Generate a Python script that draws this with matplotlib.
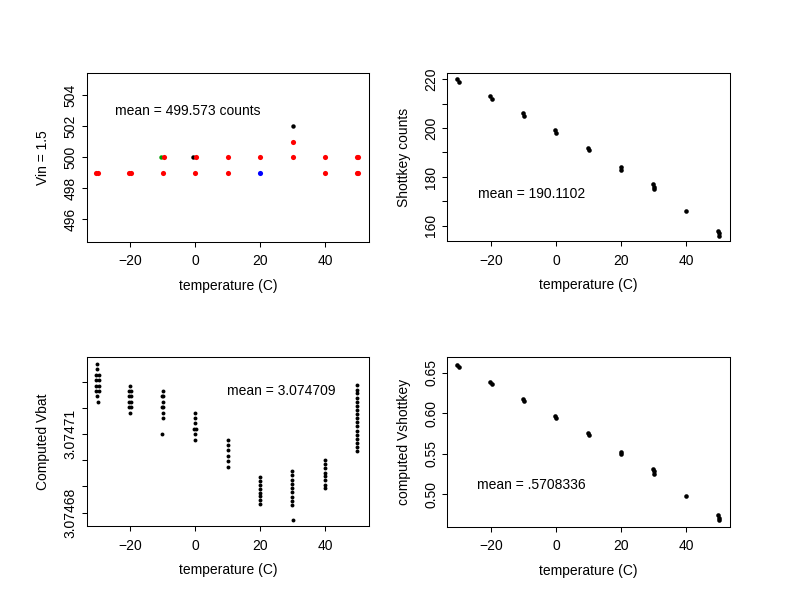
import matplotlib
matplotlib.use("Agg")
import matplotlib.pyplot as plt

plt.rcParams['font.family'] = ['Liberation Sans', 'DejaVu Sans']

# ---------------- data ----------------
# Top-left: Vin = 1.5 counts vs temperature (several colored runs)
tl_black_temp = [30.0, -0.5]
tl_black_val = [502, 500]
tl_green_temp = [-10.4]
tl_green_val = [500]
tl_blue_temp = [20.0]
tl_blue_val = [499]
tl_red_temp = [-30.4, -29.8, -20.4, -19.8, -10.0, -0.1, 10.2, 39.8, 49.6, 50.1,
               -9.7, 0.15, 10.2, 20.0, 30.0, 39.8, 49.6, 50.1, 30.0]
tl_red_val = [499, 499, 499, 499, 499, 499, 499, 499, 499, 499,
              500, 500, 500, 500, 500, 500, 500, 500, 501]

# Top-right: Shottkey counts
sk_temp = [-30.4, -29.8, -20.3, -19.8, -10.2, -9.9, -0.2, 0.1, 9.9, 10.1,
           19.9, 20.0, 29.8, 30.0, 30.1, 40.0, 49.9, 50.0, 50.0]
sk_counts = [220, 219, 213, 212, 206, 205, 199, 198, 192, 191,
             184, 183, 177, 176, 175, 166, 158, 157, 156]

# Bottom-left: computed Vbat
vb_temp = [-30.0, -30.0, -30.5, -29.6, -30.5, -29.6, -30.5, -29.6, -30.5, -29.6, -30.1, -29.8,
           -20.0, -20.4, -19.6, -20.4, -19.6, -20.4, -19.6, -20.4, -19.6, -20.1,
           -10.0, -10.3, -9.8, -10.0, -10.3, -9.8, -10.0, -10.0, -10.1,
           0.0, 0.0, 0.0, -0.3, 0.2, 0.0, 0.0,
           10.0, 10.0, 10.0, 10.0, 10.0, 10.0,
           20.0, 20.0, 20.0, 20.0, 20.0, 20.0, 20.0, 20.0,
           29.8, 29.8, 29.8, 29.8, 29.8, 29.8, 29.8, 29.8, 29.8, 30.0,
           39.9, 39.9, 39.9, 39.9, 39.9, 39.9, 39.9, 39.9,
           49.6, 49.6, 49.6, 49.6, 49.6, 49.6, 49.6, 49.6, 49.6, 49.6, 49.6, 49.6,
           49.6, 49.6, 49.6, 49.6, 49.6]
vb_val = [3.0747367, 3.0747347, 3.0747325, 3.0747325, 3.0747305, 3.0747305, 3.0747285,
          3.0747285, 3.0747264, 3.0747264, 3.0747244, 3.0747221,
          3.0747285, 3.0747264, 3.0747264, 3.0747244, 3.0747244, 3.0747222, 3.0747222,
          3.0747202, 3.0747202, 3.0747180,
          3.0747264, 3.0747244, 3.0747244, 3.0747222, 3.0747202, 3.0747202, 3.0747180,
          3.0747160, 3.0747099,
          3.0747182, 3.0747161, 3.0747141, 3.0747119, 3.0747119, 3.0747099, 3.0747077,
          3.0747079, 3.0747058, 3.0747038, 3.0747016, 3.0746996, 3.0746974,
          3.0746936, 3.0746921, 3.0746906, 3.0746891, 3.0746876, 3.0746862, 3.0746847,
          3.0746832,
          3.0746959, 3.0746942, 3.0746926, 3.0746910, 3.0746893, 3.0746877, 3.0746861,
          3.0746844, 3.0746828, 3.0746771,
          3.0747000, 3.0746984, 3.0746969, 3.0746953, 3.0746938, 3.0746923, 3.0746907,
          3.0746892,
          3.0747286, 3.0747270, 3.0747255, 3.0747239, 3.0747223, 3.0747208, 3.0747192,
          3.0747176, 3.0747161, 3.0747145, 3.0747129, 3.0747113, 3.0747098, 3.0747082,
          3.0747066, 3.0747051, 3.0747035]

# Bottom-right: computed Vshottkey
vs_temp = [-30.4, -29.8, -20.3, -19.8, -10.2, -9.9, -0.2, 0.1, 9.9, 10.1,
           19.9, 20.0, 29.8, 30.0, 30.1, 40.0, 49.9, 50.0, 50.0]
vs_val = [0.660, 0.657, 0.639, 0.636, 0.618, 0.615, 0.597, 0.594, 0.576, 0.573,
          0.552, 0.549, 0.531, 0.528, 0.525, 0.498, 0.474, 0.471, 0.468]

x_ticks = [-20, 0, 20, 40]
x_ticklabels = ['\u221220', '0', '20', '40']

tl_yticks = [496, 498, 500, 502, 504]
tl_ylabels = ['496', '498', '500', '502', '504']
tr_yticks = [160, 170, 180, 190, 200, 210, 220]
tr_ylabels = ['160', '', '180', '', '200', '', '220']
bl_yticks = [3.07468, 3.07469, 3.07470, 3.07471, 3.07472, 3.07473]
bl_ylabels = ['3.07468', '', '', '3.07471', '', '']
br_yticks = [0.50, 0.55, 0.60, 0.65]
br_ylabels = ['0.50', '0.55', '0.60', '0.65']

# ---------------- figure ----------------
W, H = 792, 612
fig = plt.figure(figsize=(W / 100, H / 100), dpi=100)


def make_ax(x0, x1, y0, y1):
    return fig.add_axes([x0 / W, 1 - y1 / H, (x1 - x0) / W, (y1 - y0) / H])


ax_tl = make_ax(86.7, 369.0, 72.7, 241.7)
ax_tr = make_ax(447.0, 730.0, 72.7, 241.3)
ax_bl = make_ax(86.7, 369.0, 356.8, 526.2)
ax_br = make_ax(447.0, 730.0, 357.0, 526.5)


def style(ax, xlim, ylim, yticks, ylabels, ylabel):
    ax.set_xlim(*xlim)
    ax.set_ylim(*ylim)
    ax.set_xticks(x_ticks)
    ax.set_xticklabels(x_ticklabels)
    ax.set_yticks(yticks)
    ax.set_yticklabels(ylabels, rotation=90, va='center')
    ax.tick_params(direction='out', length=3.6, width=0.75, labelsize=10,
                   top=False, right=False, colors='black')
    ax.tick_params(axis='x', pad=5.3)
    ax.tick_params(axis='y', pad=2.8)
    for s in ax.spines.values():
        s.set_linewidth(0.75)
        s.set_color('black')
    ax.set_xlabel('temperature (C)', fontsize=10)
    ax.xaxis.label.set_va('center')
    bbox = ax.get_position()
    hpx = bbox.height * H
    wpx = bbox.width * W
    ax.xaxis.set_label_coords(0.5, -44.0 / hpx)
    ax.set_ylabel(ylabel, fontsize=10)
    ax.yaxis.label.set_va('center')
    ax.yaxis.set_label_coords(-43.5 / wpx, 0.5)


ms_big = 3.7
ms = 3.3

ax_tl.plot(tl_black_temp, tl_black_val, 'o', color='black', ms=3.2, mew=0, ls='none')
ax_tl.plot(tl_green_temp, tl_green_val, 'o', color='#00a000', ms=3.2, mew=0, ls='none')
ax_tl.plot(tl_blue_temp, tl_blue_val, 'o', color='#0000ff', ms=ms_big, mew=0, ls='none')
ax_tl.plot(tl_red_temp, tl_red_val, 'o', color='#ff0000', ms=ms_big, mew=0, ls='none')
style(ax_tl, (-33.3, 53.4), (494.55, 505.45), tl_yticks, tl_ylabels, 'Vin = 1.5')
ax_tl.text(-2.3, 503.0, 'mean = 499.573 counts', ha='center', va='center', fontsize=10)

ax_tr.plot(sk_temp, sk_counts, 'o', color='black', ms=ms, mew=0, ls='none')
style(ax_tr, (-33.5, 53.45), (153.7, 222.6), tr_yticks, tr_ylabels, 'Shottkey counts')
ax_tr.text(-7.5, 173.2, 'mean = 190.1102', ha='center', va='center', fontsize=10)

ax_bl.plot(vb_temp, vb_val, 'o', color='black', ms=2.8, mew=0, ls='none')
style(ax_bl, (-33.3, 53.4), (3.0746748, 3.0747395), bl_yticks, bl_ylabels, 'Computed Vbat')
ax_bl.text(26.3, 3.0747264, 'mean = 3.074709', ha='center', va='center', fontsize=10)

ax_br.plot(vs_temp, vs_val, 'o', color='black', ms=ms, mew=0, ls='none')
style(ax_br, (-33.5, 53.45), (0.4601, 0.6693), br_yticks, br_ylabels, 'computed Vshottkey')
ax_br.text(-7.5, 0.5115, 'mean = .5708336', ha='center', va='center', fontsize=10)

fig.savefig('out.png', dpi=100)
